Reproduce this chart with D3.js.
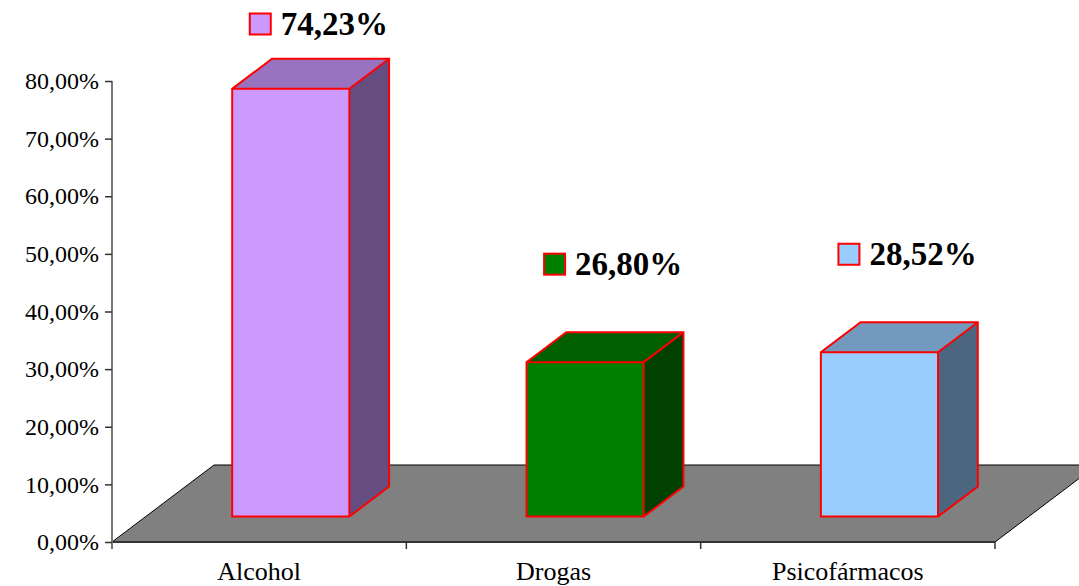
<!DOCTYPE html>
<html>
<head>
<meta charset="utf-8">
<script src="https://cdn.jsdelivr.net/npm/d3@7"></script>
<style>
  html, body { margin: 0; padding: 0; background: #fff; }
  svg { display: block; }
  .tick text { font-family: "Times New Roman", "Liberation Serif", serif; }
</style>
</head>
<body>
<svg id="chart" width="1079" height="586"></svg>
<script>
const categories = ['Alcohol', 'Drogas', 'Psicofármacos'];
const values = [74.23, 26.80, 28.52];
const barColors = ['#CC99FF', '#008000', '#99CCFF'];
const yTicks = [0, 10, 20, 30, 40, 50, 60, 70, 80];

const width = 1079;
const height = 586;

// floor geometry: front edge runs along the category axis, depth goes up-right
const plot = { left: 112, right: 995, top: 81, bottom: 542 };
const depth = { dx: 102, dy: -77 };
const barDepth = [0.33, 0.72];

const svg = d3.select('#chart');

const locale = d3.formatLocale({ decimal: ',', thousands: '.', grouping: [3], currency: ['', ' €'] });
const pct = (v) => locale.format('.2f')(v) + '%';

const xScale = d3.scaleBand().domain(categories).range([plot.left, plot.right]).padding(0);
const yScale = d3.scaleLinear().domain([0, 80]).range([plot.bottom, plot.top]);

// project a point (u along floor, value, depth fraction) to the screen
function proj(u, v, t) {
  return [u + t * depth.dx, yScale(v) + t * depth.dy];
}

function shade(color, k) {
  const c = d3.rgb(color);
  return d3.rgb(c.r * k, c.g * k, c.b * k).formatHex();
}

// floor
const floorPts = [
  proj(plot.left, 0, 0),
  proj(plot.right, 0, 0),
  proj(plot.right, 0, 1),
  proj(plot.left, 0, 1),
];
svg.append('polygon')
  .attr('points', floorPts.map((p) => p.join(',')).join(' '))
  .attr('fill', '#808080')
  .attr('stroke', '#000')
  .attr('stroke-width', 1);

// bars
const step = xScale.step();
const bars = categories.map((c, i) => {
  const u0 = xScale(c) + step * 0.294;
  const u1 = u0 + step * 0.398;
  return { c, i, u0, u1, v: values[i], color: barColors[i] };
});

const barGroups = svg.selectAll('.bar').data(bars).join('g').attr('class', 'bar');

const poly = (pts) => pts.map((p) => p.join(',')).join(' ');
const [t0, t1] = barDepth;

barGroups.append('polygon')
  .attr('points', (d) => poly([proj(d.u0, 0, t0), proj(d.u1, 0, t0), proj(d.u1, d.v, t0), proj(d.u0, d.v, t0)]))
  .attr('fill', (d) => d.color);

barGroups.append('polygon')
  .attr('points', (d) => poly([proj(d.u1, 0, t0), proj(d.u1, 0, t1), proj(d.u1, d.v, t1), proj(d.u1, d.v, t0)]))
  .attr('fill', (d) => shade(d.color, 0.5));

barGroups.append('polygon')
  .attr('points', (d) => poly([proj(d.u0, d.v, t0), proj(d.u1, d.v, t0), proj(d.u1, d.v, t1), proj(d.u0, d.v, t1)]))
  .attr('fill', (d) => shade(d.color, 0.75));

// red outlines of visible edges
barGroups.append('path')
  .attr('d', (d) => {
    const a = proj(d.u0, 0, t0), b = proj(d.u1, 0, t0), bb = proj(d.u1, 0, t1);
    const e = proj(d.u0, d.v, t0), f = proj(d.u1, d.v, t0), g = proj(d.u1, d.v, t1), h = proj(d.u0, d.v, t1);
    return `M${a}L${b}L${bb}L${g}L${h}L${e}Z M${e}L${f}L${g} M${f}L${b}`;
  })
  .attr('fill', 'none')
  .attr('stroke', '#FF0000')
  .attr('stroke-width', 2)
  .attr('stroke-linejoin', 'miter');

// value labels with legend key
const labels = svg.selectAll('.vlabel').data(bars).join('g').attr('class', 'vlabel')
  .attr('transform', (d) => {
    const cx = (d.u0 + d.u1) / 2 + t0 * depth.dx + 30;
    const cy = Math.max(24, proj(d.u0, d.v, t0)[1] - 98);
    return `translate(${cx - 72},${cy})`;
  });

labels.append('rect')
  .attr('x', 1).attr('y', -10.5)
  .attr('width', 21).attr('height', 21)
  .attr('fill', (d) => d.color)
  .attr('stroke', '#FF0000')
  .attr('stroke-width', 2);

labels.append('text')
  .attr('x', 32).attr('y', 11)
  .attr('font-family', '"Times New Roman", "Liberation Serif", serif')
  .attr('font-weight', 'bold')
  .attr('font-size', 33)
  .attr('fill', '#000')
  .text((d) => pct(d.v));

// category axis along the floor's front edge
const catAxis = svg.append('g');
catAxis.append('line')
  .attr('x1', plot.left).attr('x2', plot.right)
  .attr('y1', plot.bottom).attr('y2', plot.bottom)
  .attr('stroke', '#333').attr('stroke-width', 2);

const boundaries = categories.map((c) => xScale(c)).concat([plot.right]);
catAxis.selectAll('.ctick').data(boundaries).join('line')
  .attr('x1', (d) => d).attr('x2', (d) => d)
  .attr('y1', plot.bottom).attr('y2', plot.bottom + 7)
  .attr('stroke', '#333').attr('stroke-width', 1.5);

catAxis.selectAll('.clabel').data(categories).join('text')
  .attr('x', (d) => xScale(d) + step / 2)
  .attr('y', 580)
  .attr('text-anchor', 'middle')
  .attr('font-family', '"Times New Roman", "Liberation Serif", serif')
  .attr('font-size', 26)
  .attr('fill', '#000')
  .text((d) => d);

// value axis
const yAxis = svg.append('g')
  .attr('transform', `translate(${plot.left},0)`)
  .call(d3.axisLeft(yScale).tickValues(yTicks).tickFormat(pct).tickSize(7).tickPadding(6));

yAxis.select('.domain').attr('stroke', '#777').attr('stroke-width', 2)
  .attr('d', `M0,${plot.top}V${plot.bottom + 6}`);
yAxis.selectAll('.tick line').attr('stroke', '#333').attr('stroke-width', 1.5);
yAxis.selectAll('.tick text')
  .attr('font-size', 24)
  .attr('fill', '#000');
</script>
</body>
</html>
